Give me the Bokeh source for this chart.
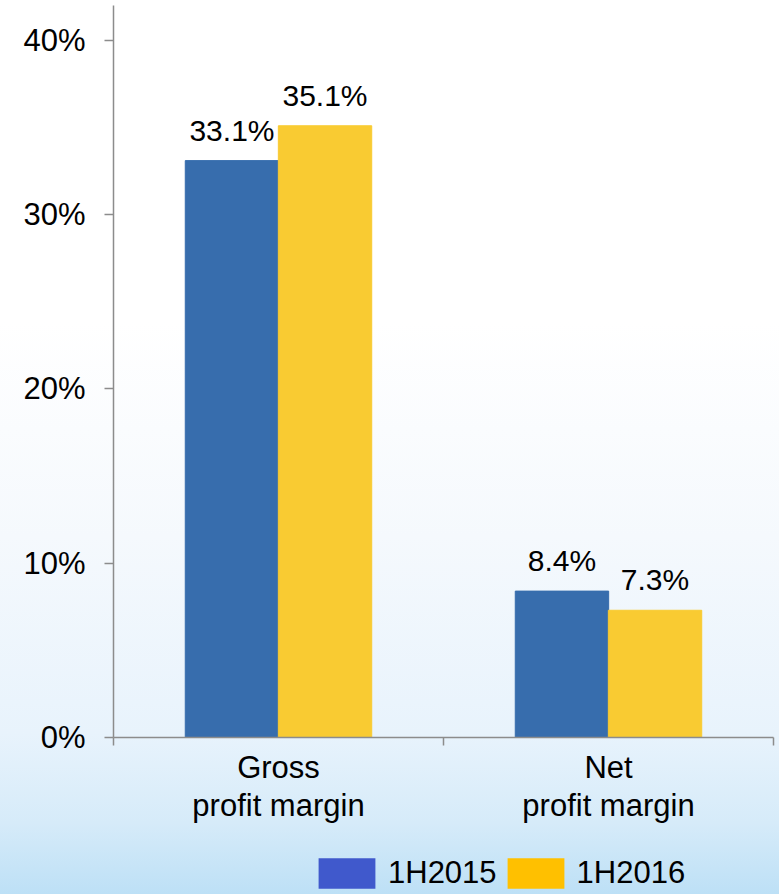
from bokeh.plotting import figure
from bokeh.layouts import column
from bokeh.models import (ColumnDataSource, Range1d, LinearAxis,
                          FixedTicker, LabelSet, Legend, LegendItem, NumeralTickFormatter)
from bokeh.core.properties import value
from bokeh.transform import dodge
from bokeh.embed import file_html
from bokeh.resources import INLINE

categories = ["Gross\nprofit margin", "Net\nprofit margin"]
series_names = ["1H2015", "1H2016"]
values_2015 = [33.1, 8.4]
values_2016 = [35.1, 7.3]
y_ticks = [0, 10, 20, 30, 40]
bar_colors = ["#376DAD", "#F9CB32"]
legend_colors = ["#4059CC", "#FFC000"]

FONT = "Liberation Sans"
FS = "31px"

# category centres on a numeric axis: category i spans [i, i+1]
centres = [i + 0.5 for i in range(len(categories))]

src = ColumnDataSource(dict(
    xc=centres,
    v15=values_2015,
    v16=values_2016,
    l15=[f"{v:.1f}%" for v in values_2015],
    l16=[f"{v:.1f}%" for v in values_2016],
))

p = figure(width=779, height=846, output_backend="svg", toolbar_location=None,
           x_range=Range1d(0, len(categories)), y_range=Range1d(0, 42),
           x_axis_location=None,
           min_border_left=113, min_border_right=6, min_border_top=5, min_border_bottom=109,
           background_fill_color=None, border_fill_color=None, outline_line_color=None)
p.grid.visible = False

off = 0.141
w = 0.283
r1 = p.vbar(x=dodge("xc", -off), top="v15", width=w, source=src,
            fill_color=bar_colors[0], line_color=bar_colors[0])
r2 = p.vbar(x=dodge("xc", off), top="v16", width=w, source=src,
            fill_color=bar_colors[1], line_color=bar_colors[1])

for xo, lcol, vcol in [(-off, "l15", "v15"), (off, "l16", "v16")]:
    ls = LabelSet(x=dodge("xc", xo), y=vcol, text=lcol, source=src,
                  text_align="center", text_baseline="alphabetic", y_offset=20,
                  text_font=value(FONT), text_font_size=value("30px"), text_color="#000000")
    p.add_layout(ls)

# y axis
ya = p.yaxis[0]
ya.ticker = FixedTicker(ticks=y_ticks)
ya.formatter = NumeralTickFormatter(format="0")
ya.major_label_overrides = {t: f"{t}%" for t in y_ticks}
ya.axis_line_color = "#8C8C8C"
ya.axis_line_width = 1.5
ya.major_tick_line_color = "#8C8C8C"
ya.major_tick_line_width = 1.5
ya.major_tick_out = 9
ya.major_tick_in = 0
ya.minor_tick_line_color = None
ya.major_label_standoff = 19
ya.major_label_text_font = FONT
ya.major_label_text_font_size = FS
ya.major_label_text_color = "#000000"

# x tick axis (category boundaries)
bounds = list(range(len(categories) + 1))
xt = LinearAxis(ticker=FixedTicker(ticks=bounds))
xt.major_label_overrides = {b: "" for b in bounds}
xt.axis_line_color = "#8C8C8C"
xt.axis_line_width = 1.5
xt.major_tick_line_color = "#8C8C8C"
xt.major_tick_line_width = 1.5
xt.major_tick_out = 8
xt.major_tick_in = 0
xt.minor_tick_line_color = None
xt.major_label_text_font_size = "1px"
xt.major_label_standoff = 0
p.add_layout(xt, "below")

# category label axis
xl = LinearAxis(ticker=FixedTicker(ticks=centres))
xl.major_label_overrides = {c: lab for c, lab in zip(centres, categories)}
xl.axis_line_color = None
xl.major_tick_line_color = None
xl.minor_tick_line_color = None
xl.major_tick_out = 0
xl.major_tick_in = 0
xl.major_label_standoff = 4
xl.major_label_text_font = FONT
xl.major_label_text_font_size = FS
xl.major_label_text_color = "#000000"
xl.major_label_text_line_height = 1.1
p.add_layout(xl, "below")

# legend strip (swatch colours differ from bars); the swatch renderers sit outside the
# visible range so that only their legend entries show
p2 = figure(width=779, height=48, output_backend="svg", toolbar_location=None,
            x_range=Range1d(0, 1), y_range=Range1d(0, 1),
            x_axis_location=None, y_axis_location=None,
            min_border=0, min_border_left=0, min_border_right=0,
            min_border_top=0, min_border_bottom=0,
            background_fill_color=None, border_fill_color=None, outline_line_color=None)
p2.grid.visible = False
hidden = ColumnDataSource(dict(x=[-5], y=[-5]))
d1 = p2.rect(x="x", y="y", width=0.1, height=0.1, source=hidden,
             fill_color=legend_colors[0], line_color=None)
d2 = p2.rect(x="x", y="y", width=0.1, height=0.1, source=hidden,
             fill_color=legend_colors[1], line_color=None)
legend = Legend(items=[LegendItem(label=series_names[0], renderers=[d1]),
                       LegendItem(label=series_names[1], renderers=[d2])],
                orientation="horizontal", location=(198, 2),
                glyph_width=71, glyph_height=38, label_standoff=6, spacing=3,
                label_text_font=FONT, label_text_font_size=FS, label_text_color="#000000",
                background_fill_alpha=0, border_line_color=None, padding=0, margin=0,
                label_height=30)
p2.add_layout(legend, "center")

layout = column(p, p2, spacing=0)

html = file_html(layout, INLINE)
style = ("<style>html{height:100%;margin:0;background:linear-gradient(to bottom,"
         "#ffffff 0%,#ffffff 36%,#f5f9fd 60%,#e8f3fc 82%,#d6ebf9 92%,#bde0f6 100%);}"
         "body{margin:0;background:transparent;}</style>")
html = html.replace("</head>", style + "</head>", 1)
open("out.html", "w").write(html)
